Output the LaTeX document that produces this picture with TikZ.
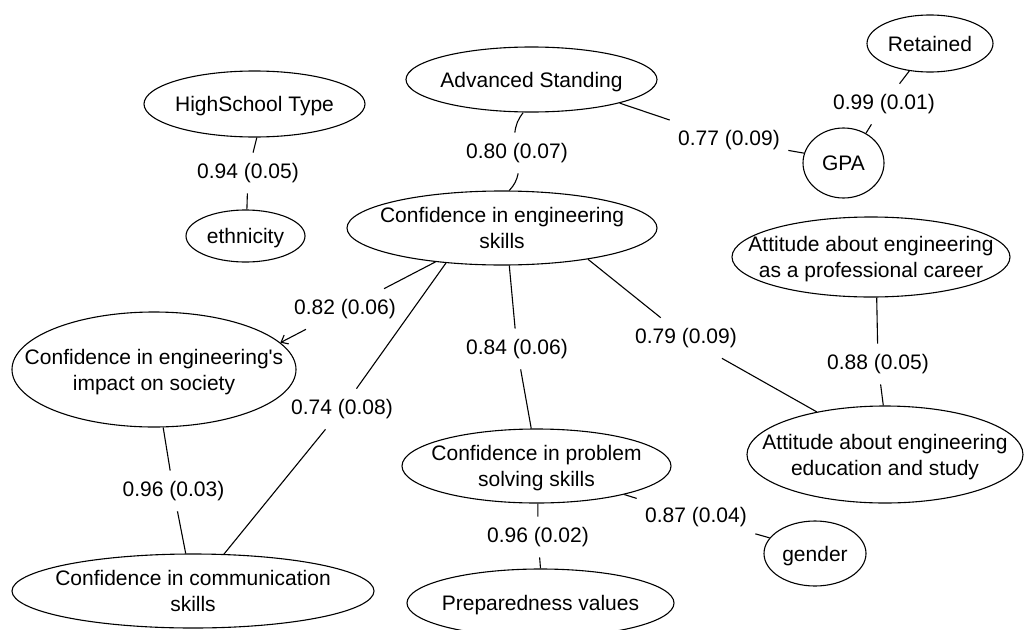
\documentclass[tikz,border=0pt]{standalone}
\usepackage{fontspec}
\setmainfont{Liberation Sans}[Ligatures=TeXOff]
\usetikzlibrary{shapes.geometric,arrows.meta}

% text of a variable: centred lines in a box of zero width, so that the
% ellipse keeps the size given by minimum width and minimum height;
% the shortened depth sets the lines a little lower in the ellipse
\newcommand\vartext[1]{\makebox[0pt]{\raisebox{0pt}[\height][\dimexpr\depth-5pt\relax]{\begin{tabular}{@{}c@{}}#1\end{tabular}}}}

\begin{document}
\begin{tikzpicture}[x=1pt,y=-1pt,line width=1.1pt,
  font=\fontsize{21}{26}\selectfont,
  var/.style={draw, ellipse, inner sep=0pt},
  coef/.style={inner xsep=8pt, inner ysep=10pt},
  tip/.style={-{Straight Barb[length=6pt,width=10pt]}}]
\useasboundingbox (0,0) rectangle (1027,629);

% latent and observed variables
\node[var, minimum width=221pt, minimum height=66pt] (hs) at (254.5,104) {\vartext{HighSchool Type}};
\node[var, minimum width=119pt, minimum height=52pt] (eth) at (245.5,236) {\vartext{ethnicity}};
\node[var, minimum width=251pt, minimum height=65pt] (adv) at (531.5,79.5) {\vartext{Advanced Standing}};
\node[var, minimum width=126pt, minimum height=57pt] (ret) at (930,43.5) {\vartext{Retained}};
\node[var, minimum width=81pt, minimum height=70pt] (gpa) at (843.5,163) {\vartext{GPA}};
\node[var, minimum width=310pt, minimum height=74pt] (skills) at (502,228) {\vartext{Confidence in engineering\\skills}};
\node[var, minimum width=278pt, minimum height=80pt] (career) at (871,257) {\vartext{Attitude about engineering\\as a professional career}};
\node[var, minimum width=284pt, minimum height=115pt] (impact) at (154,369.5) {\vartext{Confidence in engineering's\\impact on society}};
\node[var, minimum width=362pt, minimum height=74pt] (comm) at (193,591) {\vartext{Confidence in communication\\skills}};
\node[var, minimum width=269pt, minimum height=74pt] (prob) at (536.5,466) {\vartext{Confidence in problem\\solving skills}};
\node[var, minimum width=267pt, minimum height=68pt] (prep) at (540.5,603) {\vartext{Preparedness values}};
\node[var, minimum width=276pt, minimum height=97pt] (edu) at (885,454.5) {\vartext{Attitude about engineering\\education and study}};
\node[var, minimum width=102pt, minimum height=65pt] (gender) at (815,553.5) {\vartext{gender}};

% edge coefficients
\node[coef] (l094) at (248,173) {0.94 (0.05)};
\node[coef] (l080) at (517,153) {0.80 (0.07)};
\node[coef] (l077) at (729,140) {0.77 (0.09)};
\node[coef] (l099) at (884,104) {0.99 (0.01)};
\node[coef] (l082) at (345,309) {0.82 (0.06)};
\node[coef] (l084) at (517,349) {0.84 (0.06)};
\node[coef] (l079) at (686,338) {0.79 (0.09)};
\node[coef] (l088) at (878,364) {0.88 (0.05)};
\node[coef] (l074) at (342,409) {0.74 (0.08)};
\node[coef] (l096a) at (173.5,491) {0.96 (0.03)};
\node[coef] (l096b) at (538,537) {0.96 (0.02)};
\node[coef] (l087) at (696,517) {0.87 (0.04)};

% connections
\draw (hs.274) -- (l094);      \draw (l094) -- (eth.87);
\draw (adv.256) to[bend right=15] (l080); \draw (l080) to[bend left=15] (skills.79);
\draw (adv.345) -- (l077);     \draw (l077) -- (gpa.166);
\draw (ret.233) -- (l099);     \draw (l099) -- (gpa.53);
\draw (skills.207) -- (l082);  \draw[tip] (l082) -- (impact.12);
\draw (skills.212) -- (l074);  \draw (l074) -- (comm.50);
\draw (skills.281) -- (l084);  \draw (l084) -- (prob.98);
\draw (skills.340) -- (l079);  \draw (l079) -- (edu.148);
\draw (career.278) -- (l088);  \draw (l088) -- (edu.92);
\draw (impact.279) -- (l096a); \draw (l096a) -- (comm.101);
\draw (prob.272) -- (l096b);   \draw (l096b) -- (prep.90);
\draw (prob.342) -- (l087);    \draw (l087) -- (gender.161);
\end{tikzpicture}
\end{document}
